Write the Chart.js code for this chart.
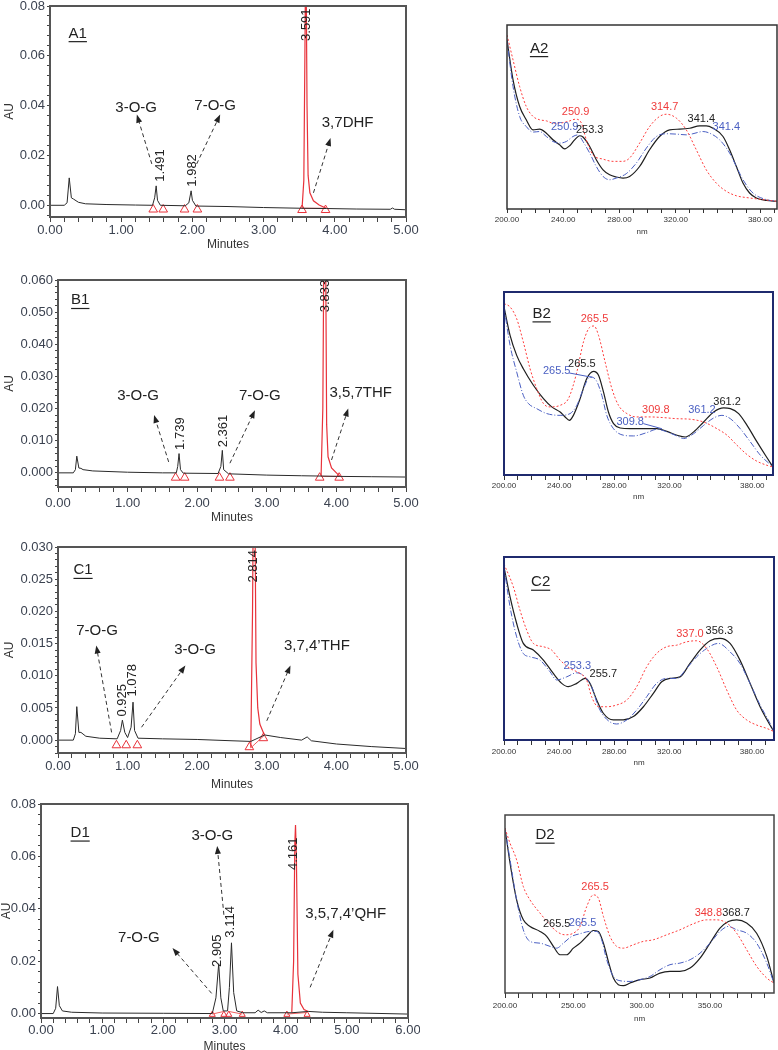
<!DOCTYPE html>
<html>
<head>
<meta charset="utf-8">
<script src="https://cdn.jsdelivr.net/npm/chart.js@4.4.1/dist/chart.umd.min.js"></script>
<style>
  body { margin: 0; background: #fff; width: 778px; height: 1050px; position: relative; overflow: hidden; }
  canvas { position: absolute; }
</style>
</head>
<body>
<canvas id="a1"></canvas>
<canvas id="b1"></canvas>
<canvas id="c1"></canvas>
<canvas id="d1"></canvas>
<canvas id="a2"></canvas>
<canvas id="b2"></canvas>
<canvas id="c2"></canvas>
<canvas id="d2"></canvas>
<script>
// ---- chromatograms: [minutes, AU] ----
const a1Trace = [[0,0],[0.2,0],[0.24,0.001],[0.27,0.011],[0.3,0.003],[0.33,0.0025],[0.4,0.0012],[0.5,0.0006],[0.8,0.0003],[1.2,0.0001],[1.44,0],[1.47,0.003],[1.491,0.0078],[1.51,0.002],[1.55,0],[1.9,-0.0002],[1.95,0.001],[1.982,0.0058],[2.0,0.002],[2.05,-0.0003],[2.5,-0.0005],[3.0,-0.0009],[3.54,-0.0012],[3.88,-0.0013],[4.3,-0.0015],[4.78,-0.0016],[4.81,-0.0011],[4.84,-0.0016],[5,-0.0018]];
const a1Peak = [[3.54,-0.0012],[3.565,0.01],[3.58,0.06],[3.588,0.09],[3.598,0.09],[3.61,0.04],[3.625,0.012],[3.65,0.005],[3.7,0.0018],[3.78,0.0001],[3.88,-0.0012]];
const a1Base = [[3.54,-0.0012],[3.88,-0.0012]];
const a1Marks = [[1.45,-0.0017],[1.59,-0.0017],[1.89,-0.0017],[2.07,-0.0017],[3.54,-0.0019],[3.87,-0.0019]];

const b1Trace = [[0,0],[0.22,0],[0.25,0.001],[0.27,0.0052],[0.3,0.0015],[0.33,0.0014],[0.36,0.001],[0.5,0.0006],[1.0,0.0002],[1.5,0],[1.7,0],[1.72,0.002],[1.739,0.006],[1.76,0.001],[1.8,-0.0001],[2.3,-0.0002],[2.34,0.002],[2.361,0.007],[2.38,0.001],[2.45,-0.0003],[3.0,-0.0007],[3.5,-0.0009],[3.78,-0.001],[4.05,-0.0011],[4.5,-0.0012],[5,-0.0013]];
const b1Peak = [[3.78,-0.001],[3.805,0.02],[3.82,0.07],[3.845,0.07],[3.86,0.015],[3.88,0.005],[3.93,0.0015],[4.0,0],[4.05,-0.0011]];
const b1Base = [[3.78,-0.0011],[4.05,-0.0011]];
const b1Marks = [[1.69,-0.0015],[1.82,-0.0015],[2.32,-0.0015],[2.47,-0.0015],[3.76,-0.0015],[4.04,-0.0015]];

const c1Trace = [[0,0],[0.22,0],[0.25,0.001],[0.27,0.0052],[0.3,0.0012],[0.33,0.0012],[0.4,0.0006],[0.6,0.0003],[0.85,0.0002],[0.9,0.0015],[0.925,0.0031],[0.96,0.0012],[1.0,0.0004],[1.05,0.002],[1.078,0.0059],[1.1,0.0015],[1.15,0.0003],[1.5,0.0002],[2.0,0.0001],[2.5,-0.0001],[2.77,-0.0002],[2.97,0.0008],[3.2,0.0004],[3.5,0.0],[3.58,0.0005],[3.64,-0.0001],[4.0,-0.0006],[4.5,-0.001],[5,-0.0013]];
const c1Peak = [[2.77,-0.0012],[2.795,0.02],[2.805,0.035],[2.83,0.035],[2.845,0.012],[2.87,0.005],[2.9,0.0025],[2.95,0.0012],[2.97,0.0008]];
const c1Base = [[2.77,-0.0012],[2.97,0.0008]];
const c1Marks = [[0.84,-0.0008],[0.98,-0.0008],[1.14,-0.0008],[2.75,-0.0011],[2.95,0.0003]];

const d1Trace = [[0,0],[0.2,0],[0.24,0.002],[0.27,0.0103],[0.3,0.003],[0.35,0.001],[0.5,0.0005],[1,0.0002],[2,0.0001],[2.8,0],[2.86,0.006],[2.905,0.019],[2.94,0.006],[2.98,0.001],[3.05,0.001],[3.08,0.01],[3.114,0.027],[3.15,0.008],[3.2,0.001],[3.3,0.0003],[3.5,0.0003],[3.55,0.0013],[3.6,0.0004],[3.65,0.001],[3.7,0.0003],[4.1,0.0003],[4.37,0.0008],[4.6,0.0005],[5,0.0003],[6,-0.0002]];
const d1Peak = [[4.1,0.0003],[4.13,0.02],[4.15,0.065],[4.161,0.072],[4.175,0.06],[4.2,0.015],[4.24,0.004],[4.3,0.0015],[4.37,0.0008]];
const d1Base = [[2.8,-0.0002],[2.99,0.0008],null,[3.07,0.0008],[3.29,-0.0002],null,[4.02,-0.0002],[4.35,0.0004]];
const d1Marks = [[2.8,-0.0004],[2.99,-0.0004],[3.07,-0.0004],[3.29,-0.0004],[4.02,-0.0004],[4.35,-0.0004]];

// ---- UV spectra: [nm, relative absorbance] ----
const a2Black = [[200,.919],[204.3,.702],[209,.557],[213.7,.485],[218.5,.43],[223.2,.434],[228,.412],[232.7,.376],[237.4,.349],[241,.327],[244.6,.344],[248.1,.376],[251.7,.398],[254,.391],[258.8,.34],[263.5,.268],[268.3,.213],[273,.186],[277.7,.174],[282.5,.168],[287.2,.177],[294.3,.231],[301.4,.322],[308.5,.394],[315.7,.43],[322.8,.434],[329.9,.439],[337,.452],[341.7,.452],[346.5,.439],[353.6,.394],[358.3,.322],[363.1,.231],[367.8,.141],[372.5,.087],[377.3,.06],[384.4,.047],[392,.042]];
const a2Blue = [[200,.919],[204.3,.665],[209,.503],[213.7,.448],[218.5,.418],[223.2,.421],[228,.394],[232.7,.367],[237.4,.358],[242.2,.367],[246.9,.394],[250.5,.403],[254,.367],[258.8,.304],[263.5,.231],[268.3,.177],[273,.159],[277.7,.168],[284.8,.192],[292,.25],[299.1,.331],[306.2,.394],[313.3,.409],[320.4,.407],[327.5,.403],[332.2,.409],[339.4,.421],[344.1,.412],[351.2,.376],[358.3,.304],[363.1,.231],[367.8,.159],[374.9,.087],[384.4,.051],[392,.042]];
const a2Red = [[200,.946],[204.3,.81],[209,.665],[213.7,.557],[218.5,.503],[223.2,.485],[228,.479],[232.7,.467],[237.4,.467],[243.4,.476],[248.8,.488],[252.9,.467],[256.4,.376],[261.1,.295],[268.3,.271],[275.4,.259],[282.5,.259],[287.2,.277],[294.3,.358],[301.4,.448],[308.5,.503],[313.3,.515],[320.4,.494],[327.5,.43],[334.6,.322],[341.7,.213],[348.8,.141],[356,.096],[363.1,.072],[372.5,.06],[382,.051],[392,.042]];

const b2Black = [[200,.915],[204.4,.754],[209.2,.64],[214,.564],[221.3,.47],[228.6,.394],[234.6,.347],[240.7,.318],[244.3,.29],[247.4,.271],[250.3,.299],[255.2,.394],[260,.508],[264.9,.549],[268.5,.527],[272.1,.432],[275.7,.318],[279.4,.252],[284.2,.227],[291.5,.223],[301.2,.223],[310.8,.223],[318.1,.208],[325.4,.186],[331.4,.176],[337.5,.205],[344.7,.261],[352,.318],[359.2,.341],[364.1,.337],[370.1,.309],[376.2,.242],[383.4,.148],[389.5,.072],[395,.006]];
const b2Blue = [[200,.915],[204.4,.697],[209.2,.545],[214,.413],[217.7,.366],[223.7,.337],[231,.309],[240.7,.299],[247.9,.309],[252.8,.356],[257.6,.451],[262.4,.517],[266.8,.498],[270.9,.413],[274.5,.299],[279.4,.223],[286.6,.186],[293.9,.182],[303.6,.201],[310.8,.22],[318.1,.205],[325.4,.182],[330.2,.167],[337.5,.195],[344.7,.242],[352,.284],[358,.299],[364.1,.28],[371.3,.223],[378.6,.148],[385.9,.072],[395,.006]];
const b2Red = [[200,.934],[204.4,.915],[209.2,.848],[214,.716],[218.9,.564],[223.7,.451],[228.6,.366],[233.4,.347],[240.7,.356],[246.7,.394],[252.8,.545],[257.6,.716],[262.4,.801],[265.3,.807],[268.5,.754],[273.3,.602],[278.2,.451],[283,.356],[289.1,.309],[296.3,.29],[306,.29],[315.7,.286],[325.4,.28],[335,.277],[344.7,.261],[354.4,.223],[361.7,.186],[368.9,.129],[376.2,.076],[383.4,.038],[390.7,.015],[395,.006]];

const c2Black = [[200,.943],[204.4,.773],[209.2,.622],[214,.509],[221.3,.471],[228.6,.414],[235.8,.338],[241.9,.282],[246.7,.263],[252.8,.282],[258.8,.31],[262.4,.282],[267.3,.187],[272.1,.112],[279.4,.074],[286.6,.074],[293.9,.093],[301.2,.149],[308.4,.225],[314.5,.291],[320.5,.31],[327.8,.319],[335,.395],[342.3,.471],[349.6,.524],[356.8,.537],[364.1,.509],[371.3,.414],[378.6,.282],[385.9,.149],[393.1,.045],[396,.008]];
const c2Blue = [[200,.943],[204.4,.716],[209.2,.546],[214,.452],[218.9,.433],[226.1,.414],[233.4,.348],[238.2,.301],[245.5,.319],[252.8,.342],[258.8,.319],[263.6,.263],[268.5,.149],[274.5,.078],[281.8,.051],[289.1,.074],[296.3,.13],[303.6,.206],[310.8,.282],[318.1,.31],[325.4,.31],[332.6,.367],[339.9,.433],[347.1,.48],[355.6,.509],[364.1,.461],[371.3,.395],[378.6,.282],[385.9,.159],[393.1,.055],[396,.008]];
const c2Red = [[200,.96],[206.8,.83],[211.6,.698],[216.5,.584],[221.3,.509],[228.6,.49],[234.6,.471],[240.7,.414],[247.9,.367],[255.2,.338],[260,.301],[263.6,.206],[268.5,.149],[274.5,.149],[281.8,.159],[289.1,.187],[296.3,.263],[303.6,.376],[310.8,.452],[318.1,.49],[325.4,.499],[332.6,.518],[339.9,.524],[347.1,.48],[354.4,.376],[361.7,.244],[368.9,.13],[376.2,.074],[383.4,.045],[390.7,.026],[396,.008]];

const d2Black = [[200,.925],[203.7,.729],[208.5,.523],[213.4,.411],[218.3,.374],[225.6,.346],[230.5,.318],[235.4,.262],[240.2,.215],[245.1,.215],[250,.252],[254.9,.28],[259.8,.318],[264.6,.351],[268.3,.346],[272,.28],[275.6,.178],[279.3,.084],[282.9,.047],[286.6,.041],[291.5,.056],[298.8,.075],[306.1,.084],[313.4,.112],[320.7,.121],[328,.121],[335.4,.14],[342.7,.196],[350,.28],[357.3,.364],[363.4,.402],[369.5,.411],[376.8,.393],[384.1,.336],[391.5,.206],[396.8,.056]];
const d2Blue = [[200,.925],[203.7,.748],[208.5,.523],[213.4,.355],[218.3,.29],[225.6,.28],[232.9,.262],[237.8,.252],[242.7,.28],[248.8,.318],[254.9,.333],[262.2,.346],[267.1,.346],[270.7,.299],[274.4,.187],[279.3,.093],[284.1,.069],[291.5,.065],[298.8,.075],[306.1,.093],[313.4,.131],[320.7,.159],[328,.168],[335.4,.187],[342.7,.224],[350,.28],[357.3,.346],[363.4,.374],[369.5,.355],[376.8,.336],[384.1,.28],[391.5,.168],[396.8,.056]];
const d2Red = [[200,.925],[203.7,.841],[208.5,.748],[213.4,.598],[218.3,.523],[225.6,.449],[231.7,.393],[237.8,.346],[243.9,.327],[250,.336],[254.9,.374],[259.8,.486],[264.6,.551],[268.3,.533],[272,.43],[276.8,.318],[281.7,.262],[286.6,.252],[293.9,.271],[301.2,.29],[308.5,.299],[318.3,.327],[328,.355],[337.8,.389],[347.6,.411],[354.9,.411],[362.2,.393],[369.5,.336],[376.8,.243],[384.1,.15],[391.5,.084],[396.8,.056]];

// tick labels shown on the wavelength axes
const nmLabelsABC = [200, 240, 280, 320, 380];
const nmLabelsD = [200, 250, 300, 350];

const BLK = '#222', RED = '#ef3b3b', BLU = '#4a5fc2';
Chart.defaults.font.family = '"Liberation Sans", Arial, sans-serif';
Chart.defaults.animation = false;
Chart.defaults.plugins.legend.display = false;
Chart.defaults.plugins.tooltip.enabled = false;

const pts = arr => arr.map(p => p ? {x: p[0], y: p[1]} : {x: null, y: null});
const near = (v, m) => Math.abs(v / m - Math.round(v / m)) < 1e-6;

function place(cv, box) {
  cv.width = box.width; cv.height = box.height;
  cv.style.left = box.left + 'px'; cv.style.top = box.top + 'px';
  cv.style.width = box.width + 'px'; cv.style.height = box.height + 'px';
}

function framePlugin(color, width) {
  return {
    id: 'frame',
    afterDatasetsDraw(chart) {
      const a = chart.chartArea, ctx = chart.ctx;
      ctx.save();
      ctx.strokeStyle = color; ctx.lineWidth = width;
      ctx.strokeRect(a.left, a.top, a.right - a.left, a.bottom - a.top);
      ctx.restore();
    }
  };
}

function notesPlugin(notes) {
  return {
    id: 'notes',
    afterDraw(chart) {
      const ctx = chart.ctx, sx = chart.scales.x, sy = chart.scales.y;
      const X = v => sx.getPixelForValue(v), Y = v => sy.getPixelForValue(v);
      ctx.save();
      notes.forEach(n => {
        if (n.type === 'arrow') {
          const x1 = X(n.x1), y1 = Y(n.y1), x2 = X(n.x2), y2 = Y(n.y2);
          const ang = Math.atan2(y2 - y1, x2 - x1);
          ctx.strokeStyle = '#333'; ctx.lineWidth = 1; ctx.setLineDash([4, 3]);
          ctx.beginPath(); ctx.moveTo(x1, y1);
          ctx.lineTo(x2 - 6 * Math.cos(ang), y2 - 6 * Math.sin(ang)); ctx.stroke();
          ctx.setLineDash([]);
          ctx.fillStyle = '#222';
          ctx.beginPath(); ctx.moveTo(x2, y2);
          ctx.lineTo(x2 - 8 * Math.cos(ang) + 3 * Math.sin(ang), y2 - 8 * Math.sin(ang) - 3 * Math.cos(ang));
          ctx.lineTo(x2 - 8 * Math.cos(ang) - 3 * Math.sin(ang), y2 - 8 * Math.sin(ang) + 3 * Math.cos(ang));
          ctx.closePath(); ctx.fill();
        } else if (n.type === 'lead') {
          ctx.strokeStyle = n.c; ctx.lineWidth = 1; ctx.setLineDash([]);
          ctx.beginPath(); ctx.moveTo(X(n.x1), Y(n.y1)); ctx.lineTo(X(n.x2), Y(n.y2)); ctx.stroke();
        } else {
          const x = X(n.x), y = Y(n.y);
          ctx.font = n.s + 'px "Liberation Sans", Arial, sans-serif';
          ctx.fillStyle = n.c || BLK;
          ctx.textAlign = 'center'; ctx.textBaseline = 'middle';
          if (n.rot) {
            ctx.save(); ctx.translate(x, y); ctx.rotate(-Math.PI / 2);
            ctx.fillText(n.t, 0, 0); ctx.restore();
          } else {
            ctx.fillText(n.t, x, y);
          }
          if (n.type === 'tag') {
            const w = ctx.measureText(n.t).width;
            ctx.strokeStyle = n.c || BLK; ctx.lineWidth = 1.2;
            ctx.beginPath(); ctx.moveTo(x - w / 2, y + n.s * 0.55); ctx.lineTo(x + w / 2, y + n.s * 0.55); ctx.stroke();
          }
        }
      });
      ctx.restore();
    }
  };
}

function chrom(id, box, plot, o) {
  const cv = document.getElementById(id);
  place(cv, box);
  const xH = box.top + box.height - plot.B;
  new Chart(cv, {
    type: 'line',
    data: {
      datasets: [
        {data: pts(o.trace), borderColor: '#2a2a2a', borderWidth: 1, pointRadius: 0, tension: 0},
        {data: pts(o.base), borderColor: '#f06060', borderWidth: 1, pointRadius: 0, spanGaps: false},
        {data: pts(o.peak), borderColor: '#e8323a', borderWidth: 1.2, pointRadius: 0, tension: 0},
        {data: pts(o.marks), showLine: false, pointStyle: 'triangle', pointRadius: o.markR,
         pointBorderColor: '#e8323a', pointBackgroundColor: 'rgba(255,255,255,0)', pointBorderWidth: 1, clip: false}
      ]
    },
    options: {
      responsive: false,
      devicePixelRatio: 1,
      layout: {padding: {left: 0, top: plot.T - box.top, right: box.left + box.width - plot.R, bottom: 0}},
      scales: {
        x: {
          type: 'linear', min: 0, max: o.xMax,
          afterFit: s => { s.height = xH; s.paddingLeft = 0; s.paddingRight = 0; },
          border: {display: false},
          grid: {drawOnChartArea: false, tickLength: 5, color: '#444'},
          ticks: {stepSize: 0.2, autoSkip: false, includeBounds: false, maxRotation: 0, maxTicksLimit: 100,
                  padding: o.tickPad, color: '#3b4250', font: {size: 13},
                  callback: v => near(v, 1) ? v.toFixed(2) : ''},
          title: {display: true, text: 'Minutes', color: '#333', font: {size: 12},
                  padding: {top: 0, bottom: Math.max(0, plot.B + xH - o.minutesY - 7.2)}}
        },
        y: {
          min: o.yMin, max: o.yMax,
          afterFit: s => { s.width = plot.L; s.paddingTop = 0; s.paddingBottom = 0; },
          border: {display: false},
          grid: {drawOnChartArea: false, tickLength: 3, color: '#444'},
          ticks: {stepSize: o.yStep, autoSkip: false, includeBounds: false, maxTicksLimit: 100, padding: 2,
                  color: '#3b4250', font: {size: 13},
                  callback: v => near(v, o.yMajor) ? v.toFixed(o.yDec) : ''},
          title: {display: true, text: 'AU', color: '#333', font: {size: 12},
                  padding: {top: o.auX - 7.2, bottom: 0}}
        }
      }
    },
    plugins: [framePlugin('#555', 2), notesPlugin(o.notes)]
  });
}

function spec(id, box, plot, o) {
  const cv = document.getElementById(id);
  place(cv, box);
  const xH = box.top + box.height - plot.B;
  const line = (d, c, dash, w) => ({data: pts(d), borderColor: c, borderWidth: w, borderDash: dash,
                                   pointRadius: 0, cubicInterpolationMode: 'monotone'});
  new Chart(cv, {
    type: 'line',
    data: {
      datasets: [
        line(o.red, '#ff3d3d', [2, 2], 1),
        line(o.blue, BLU, [6, 2, 1, 2], 1),
        line(o.black, '#1e1e1e', [], 1.2)
      ]
    },
    options: {
      responsive: false,
      devicePixelRatio: 1,
      layout: {padding: {left: plot.L - box.left, top: plot.T - box.top, right: box.left + box.width - plot.R, bottom: 0}},
      scales: {
        x: {
          type: 'linear', min: 200, max: o.xMax,
          afterFit: s => { s.height = xH; s.paddingLeft = 0; s.paddingRight = 0; },
          border: {display: false},
          grid: {drawOnChartArea: false, tickLength: o.tickLen, color: '#333'},
          ticks: {stepSize: 10, autoSkip: false, includeBounds: false, maxRotation: 0, maxTicksLimit: 100,
                  padding: o.tickPad, color: '#333', font: {size: 8},
                  callback: v => o.labels.some(l => Math.abs(l - v) < 1e-6) ? v.toFixed(2) : ''},
          title: {display: true, text: 'nm', color: '#333', font: {size: 8},
                  padding: {top: 0, bottom: Math.max(0, plot.B + xH - o.nmY - 4.8)}}
        },
        y: {display: false, min: o.yMin, max: 1}
      }
    },
    plugins: [framePlugin(o.frame, o.frameW), notesPlugin(o.notes)]
  });
}

const T = (t, x, y, c, s) => ({type: 'text', t, x, y, c, s: s || 15});
const R = (t, x, y) => ({type: 'text', t, x, y, c: BLK, s: 13, rot: true});
const A = (x1, y1, x2, y2) => ({type: 'arrow', x1, y1, x2, y2});
const G = (t, x, y) => ({type: 'tag', t, x, y, c: BLK, s: 15});
const L = (t, x, y, c) => ({type: 'text', t, x, y, c, s: 11});
const LD = (x1, y1, x2, y2, c) => ({type: 'lead', x1, y1, x2, y2, c});

chrom('a1', {left: 0, top: 0, width: 420, height: 254}, {L: 50, T: 3, R: 406, B: 217}, {
  trace: a1Trace, peak: a1Peak, base: a1Base, marks: a1Marks, markR: 5,
  xMax: 5, yMin: -0.0047, yMax: 0.08, yStep: 0.004, yMajor: 0.02, yDec: 2,
  tickPad: 1, minutesY: 245, auX: 10,
  notes: [G('A1', 0.39, 0.069), T('3-O-G', 1.21, 0.039), T('7-O-G', 2.32, 0.040), T('3,7DHF', 4.18, 0.033),
          A(1.43, 0.0166, 1.22, 0.0364), A(2.06, 0.0166, 2.39, 0.0364), A(3.70, 0.005, 3.94, 0.027),
          R('1.491', 1.55, 0.016), R('1.982', 1.995, 0.014), R('3.591', 3.6, 0.0725)]
});

chrom('b1', {left: 0, top: 255, width: 420, height: 272}, {L: 58, T: 280, R: 406, B: 487}, {
  trace: b1Trace, peak: b1Peak, base: b1Base, marks: b1Marks, markR: 5,
  xMax: 5, yMin: -0.0044, yMax: 0.06, yStep: 0.002, yMajor: 0.01, yDec: 3,
  tickPad: 4, minutesY: 518, auX: 10,
  notes: [G('B1', 0.32, 0.0537), T('3-O-G', 1.15, 0.024), T('7-O-G', 2.9, 0.024), T('3,5,7THF', 4.35, 0.025),
          A(1.59, 0.0034, 1.38, 0.018), A(2.47, 0.003, 2.83, 0.0195), A(3.93, 0.004, 4.17, 0.020),
          R('1.739', 1.755, 0.0122), R('2.361', 2.37, 0.013), R('3.833', 3.84, 0.055)]
});

chrom('c1', {left: 0, top: 530, width: 420, height: 262}, {L: 58, T: 547, R: 406, B: 753}, {
  trace: c1Trace, peak: c1Peak, base: c1Base, marks: c1Marks, markR: 5,
  xMax: 5, yMin: -0.002, yMax: 0.03, yStep: 0.001, yMajor: 0.005, yDec: 3,
  tickPad: 1, minutesY: 785, auX: 10,
  notes: [G('C1', 0.36, 0.0264), T('7-O-G', 0.56, 0.017), T('3-O-G', 1.97, 0.014), T('3,7,4\u2019THF', 3.72, 0.0146),
          A(0.77, 0.0012, 0.55, 0.0147), A(1.2, 0.002, 1.83, 0.0116), A(3.0, 0.003, 3.34, 0.0116),
          R('0.925', 0.93, 0.0062), R('1.078', 1.07, 0.0093), R('2.814', 2.81, 0.027)]
});

chrom('d1', {left: 0, top: 790, width: 420, height: 265}, {L: 41, T: 804, R: 408, B: 1018}, {
  trace: d1Trace, peak: d1Peak, base: d1Base, marks: d1Marks, markR: 3.5,
  xMax: 6, yMin: -0.0017, yMax: 0.08, yStep: 0.004, yMajor: 0.02, yDec: 2,
  tickPad: 0, minutesY: 1047, auX: 7,
  notes: [G('D1', 0.64, 0.069), T('7-O-G', 1.6, 0.029), T('3-O-G', 2.8, 0.068), T('3,5,7,4\u2019QHF', 4.98, 0.038),
          A(2.79, 0.0077, 2.15, 0.025), A(2.99, 0.0377, 2.88, 0.064), A(4.4, 0.010, 4.78, 0.032),
          R('2.905', 2.88, 0.024), R('3.114', 3.10, 0.035), R('4.161', 4.13, 0.061)]
});

spec('a2', {left: 480, top: 10, width: 298, height: 232}, {L: 507, T: 25, R: 777, B: 209}, {
  black: a2Black, blue: a2Blue, red: a2Red, xMax: 392, yMin: 0, labels: nmLabelsABC,
  tickLen: 4, tickPad: 2, nmY: 232, frame: '#333', frameW: 1.5,
  notes: [G('A2', 222.8, 0.873), L('250.9', 248.8, 0.530, RED), L('250.9', 241.0, 0.445, BLU), L('253.3', 258.8, 0.430, BLK),
          L('314.7', 312.1, 0.553, RED), L('341.4', 338.2, 0.490, BLK), L('341.4', 356.0, 0.448, BLU)]
});

spec('b2', {left: 480, top: 280, width: 298, height: 230}, {L: 504, T: 292, R: 773, B: 475}, {
  black: b2Black, blue: b2Blue, red: b2Red, xMax: 395, yMin: -0.04, labels: nmLabelsABC,
  tickLen: 5, tickPad: 1, nmY: 497, frame: '#1f2a6e', frameW: 2,
  notes: [G('B2', 227.3, 0.877), L('265.5', 265.6, 0.848, RED), L('265.5', 256.4, 0.589, BLK), L('265.5', 238.2, 0.549, BLU),
          LD(247.2, 0.54, 264, 0.515, BLU), L('309.8', 310.1, 0.328, RED), L('309.8', 291.5, 0.261, BLU),
          LD(301, 0.252, 314.5, 0.223, BLU), L('361.2', 343.5, 0.328, BLU), L('361.2', 361.7, 0.375, BLK)]
});

spec('c2', {left: 480, top: 545, width: 298, height: 230}, {L: 504, T: 557, R: 774, B: 740}, {
  black: c2Black, blue: c2Blue, red: c2Red, xMax: 396, yMin: -0.04, labels: nmLabelsABC,
  tickLen: 5, tickPad: 2, nmY: 763, frame: '#1f2a6e', frameW: 2,
  notes: [G('C2', 226.6, 0.858), L('337.0', 335, 0.565, RED), L('356.3', 356.3, 0.580, BLK),
          L('253.3', 253.2, 0.380, BLU), L('255.7', 272.1, 0.338, BLK)]
});

spec('d2', {left: 480, top: 805, width: 298, height: 240}, {L: 505, T: 815, R: 774, B: 993}, {
  black: d2Black, blue: d2Blue, red: d2Red, xMax: 396.8, yMin: 0, labels: nmLabelsD,
  tickLen: 5, tickPad: 3, nmY: 1019, frame: '#444', frameW: 1.5,
  notes: [G('D2', 229.3, 0.888), L('265.5', 265.9, 0.598, RED), L('265.5', 237.8, 0.389, BLK), L('265.5', 256.8, 0.393, BLU),
          L('348.8', 348.8, 0.452, RED), L('368.7', 369.0, 0.452, BLK)]
});
</script>
</body>
</html>
